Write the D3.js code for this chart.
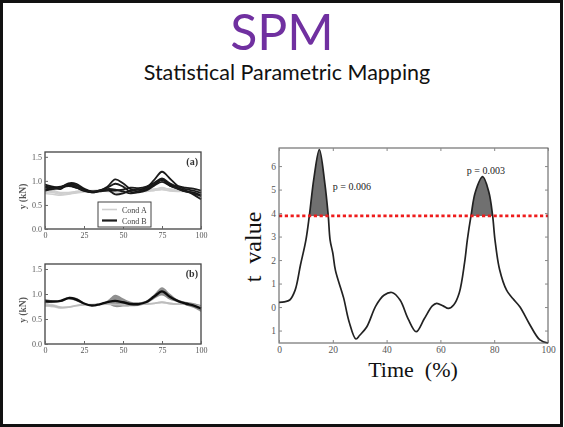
<!DOCTYPE html>
<html>
<head>
<meta charset="utf-8">
<script src="https://cdn.jsdelivr.net/npm/d3@7"></script>
<style>
  body { margin: 0; background: #fff; }
  svg { display: block; }
</style>
</head>
<body>
<div id="slide"></div>
<script>
// SPM t-statistic curve (Time %, t value)
const tTime = [0, 2, 4, 6, 8, 10, 11.3, 13, 15, 17, 18.3, 19, 20, 21, 24, 26, 28.6, 30, 32.6, 36, 39, 42, 45, 48, 51, 54, 57, 58.6, 61, 63, 65, 67, 69, 70, 71.4, 73, 75.7, 78, 79.4, 80.3, 82, 84.6, 87, 89.6, 93, 97, 100]
const tValue = [0.2, 0.22, 0.3, 0.72, 1.8, 2.85, 3.9, 5.5, 6.7, 5.3, 3.9, 2.85, 2.3, 1.55, 0.4, -0.6, -1.36, -1.2, -0.85, 0.05, 0.5, 0.62, 0.3, -0.5, -1.05, -0.5, 0.05, 0.16, 0.05, -0.06, 0.1, 0.6, 1.9, 2.85, 3.9, 4.9, 5.55, 4.9, 3.9, 2.85, 1.6, 0.72, 0.35, 0.0, -0.7, -1.4, -1.53]
const threshold = 3.88
const clusters = [{ x: 20, y: 5.0, label: "p = 0.006" }, { x: 69.8, y: 5.67, label: "p = 0.003" }]
const tTicksX = [0, 20, 40, 60, 80, 100]
const tTicksY = [-1, 0, 1, 2, 3, 4, 5, 6]
const tTickLabelsY = ["1", "0", "1", "2", "3", "4", "5", "6"]

// raw force trajectories, sampled every 5% of time
const trialTime = d3.range(0, 101, 5)
const condA = [
  [0.78, 0.76, 0.72, 0.74, 0.78, 0.80, 0.79, 0.78, 0.80, 0.81, 0.80, 0.79, 0.80, 0.80, 0.82, 0.86, 0.82, 0.80, 0.82, 0.80, 0.78],
  [0.74, 0.72, 0.70, 0.72, 0.75, 0.77, 0.78, 0.80, 0.79, 0.78, 0.77, 0.78, 0.79, 0.78, 0.80, 0.82, 0.80, 0.79, 0.80, 0.78, 0.74],
  [0.82, 0.80, 0.76, 0.76, 0.78, 0.79, 0.80, 0.81, 0.82, 0.80, 0.79, 0.80, 0.81, 0.82, 0.83, 0.84, 0.83, 0.82, 0.81, 0.79, 0.76],
  [0.76, 0.78, 0.74, 0.73, 0.76, 0.78, 0.78, 0.79, 0.78, 0.77, 0.78, 0.80, 0.80, 0.79, 0.80, 0.82, 0.79, 0.78, 0.78, 0.76, 0.72]
]
const condB = [
  [0.92, 0.88, 0.87, 0.95, 0.94, 0.84, 0.78, 0.80, 0.88, 1.03, 0.95, 0.83, 0.82, 0.86, 1.02, 1.19, 1.05, 0.90, 0.86, 0.84, 0.80],
  [0.82, 0.84, 0.88, 0.90, 0.86, 0.79, 0.76, 0.79, 0.82, 0.72, 0.74, 0.80, 0.78, 0.82, 0.92, 1.02, 0.93, 0.85, 0.80, 0.72, 0.62],
  [0.88, 0.86, 0.83, 0.93, 0.91, 0.82, 0.78, 0.80, 0.86, 0.94, 0.88, 0.77, 0.76, 0.80, 0.90, 0.98, 0.90, 0.84, 0.78, 0.76, 0.70],
  [0.80, 0.83, 0.86, 0.89, 0.86, 0.80, 0.76, 0.78, 0.80, 0.80, 0.82, 0.86, 0.85, 0.88, 0.96, 1.05, 0.95, 0.88, 0.83, 0.80, 0.75],
  [0.86, 0.84, 0.87, 0.92, 0.88, 0.80, 0.77, 0.80, 0.83, 0.82, 0.78, 0.74, 0.78, 0.84, 0.94, 1.02, 0.90, 0.84, 0.78, 0.74, 0.68]
]
const smallTicksX = [0, 25, 50, 75, 100]
const smallTicksY = [0, 0.5, 1.0, 1.5]

const width = 564, height = 427
const serif = "'Liberation Serif', 'DejaVu Serif', serif"

const svg = d3.select('#slide').append('svg')
  .attr('width', width)
  .attr('height', height)

svg.append('rect')
  .attr('x', 1.5).attr('y', 1.5)
  .attr('width', width - 4).attr('height', height - 3)
  .attr('fill', '#fff')
  .attr('stroke', '#111')
  .attr('stroke-width', 3)

// Title
svg.append('text')
  .attr('x', 282).attr('y', 50)
  .attr('text-anchor', 'middle')
  .attr('font-family', 'Lato, sans-serif')
  .attr('font-size', 50)
  .attr('fill', '#7030a0')
  .text('SPM')

svg.append('text')
  .attr('x', 287).attr('y', 80)
  .attr('text-anchor', 'middle')
  .attr('font-family', 'Lato, sans-serif')
  .attr('font-size', 21.5)
  .attr('fill', '#111')
  .text('Statistical Parametric Mapping')

// ------------------ left small panels ------------------
const defs = svg.append('defs')
defs.append('filter').attr('id', 'soft')
  .append('feGaussianBlur').attr('stdDeviation', 0.45)

const makePanel = (top, bottom, tag, drawFn, legend) => {
  const g = svg.append('g').attr('filter', 'url(#soft)')

  const x = d3.scaleLinear().domain([0, 100]).range([45, 201])
  const y = d3.scaleLinear().domain([0, 1.6]).range([bottom, top])

  drawFn(g, x, y)

  g.append('rect')
    .attr('x', 45).attr('y', top)
    .attr('width', 156).attr('height', bottom - top)
    .attr('fill', 'none')
    .attr('stroke', '#444')
    .attr('stroke-width', 1.3)

  const xAxis = d3.axisBottom(x).tickValues(smallTicksX).tickSize(-3).tickPadding(3).tickFormat(d3.format('d'))
  const yAxis = d3.axisLeft(y).tickValues(smallTicksY).tickSize(-3).tickPadding(3).tickFormat(d3.format('.1f'))

  const gx = g.append('g').attr('transform', `translate(0,${bottom})`).call(xAxis)
  const gy = g.append('g').attr('transform', 'translate(45,0)').call(yAxis)
  for (const a of [gx, gy]) {
    a.select('.domain').remove()
    a.selectAll('line').attr('stroke', '#666')
    a.selectAll('text').attr('font-family', serif).attr('font-size', 8).attr('fill', '#555')
  }

  g.append('text')
    .attr('transform', `translate(26,${(top + bottom) / 2 + 6}) rotate(-90)`)
    .attr('text-anchor', 'middle')
    .attr('font-family', serif)
    .attr('font-size', 9.5)
    .attr('font-weight', 'bold')
    .attr('fill', '#555')
    .text('y  (kN)')

  g.append('text')
    .attr('x', 198).attr('y', top + 13)
    .attr('text-anchor', 'end')
    .attr('font-family', serif)
    .attr('font-size', 10)
    .attr('font-weight', 'bold')
    .attr('fill', '#333')
    .text(tag)

  if (legend) legend(g, x, y)
}

const trialLine = (x, y) => d3.line()
  .x((d, i) => x(trialTime[i]))
  .y(d => y(d))
  .curve(d3.curveCatmullRom)

// (a) all trials
makePanel(152, 229, '(a)', (g, x, y) => {
  g.selectAll('.trialA')
    .data(condA)
    .join('path')
    .attr('class', 'trialA')
    .attr('d', trialLine(x, y))
    .attr('fill', 'none')
    .attr('stroke', '#cfcfcf')
    .attr('stroke-width', 1.5)
  g.selectAll('.trialB')
    .data(condB)
    .join('path')
    .attr('class', 'trialB')
    .attr('d', trialLine(x, y))
    .attr('fill', 'none')
    .attr('stroke', '#1a1a1a')
    .attr('stroke-width', 1.8)
}, (g, x, y) => {
  const lg = g.append('g').attr('transform', 'translate(98,202)')
  lg.append('rect')
    .attr('width', 53).attr('height', 25)
    .attr('fill', '#fff')
    .attr('stroke', '#444')
    .attr('stroke-width', 1)
  const items = [{ label: 'Cond A', color: '#cfcfcf', w: 1.6 }, { label: 'Cond B', color: '#1a1a1a', w: 2.2 }]
  items.forEach((d, i) => {
    lg.append('line')
      .attr('x1', 4).attr('x2', 19)
      .attr('y1', 7.5 + i * 11).attr('y2', 7.5 + i * 11)
      .attr('stroke', d.color)
      .attr('stroke-width', d.w)
    lg.append('text')
      .attr('x', 24).attr('y', 10.5 + i * 11)
      .attr('font-family', serif)
      .attr('font-size', 8)
      .attr('fill', '#444')
      .text(d.label)
  })
})

// (b) mean +/- SD
const summary = (trials) => trialTime.map((t, i) => {
  const v = trials.map(tr => tr[i])
  return { t: t, mean: d3.mean(v), sd: d3.deviation(v) }
})

makePanel(264, 344, '(b)', (g, x, y) => {
  const band = d3.area()
    .x(d => x(d.t))
    .y0(d => y(d.mean - d.sd))
    .y1(d => y(d.mean + d.sd))
    .curve(d3.curveCatmullRom)
  const mean = d3.line()
    .x(d => x(d.t))
    .y(d => y(d.mean))
    .curve(d3.curveCatmullRom)

  const sA = summary(condA), sB = summary(condB)
  g.append('path').attr('d', band(sA)).attr('fill', '#c8c8c8').attr('opacity', 0.8)
  g.append('path').attr('d', band(sB)).attr('fill', '#555').attr('opacity', 0.65)
  g.append('path').attr('d', mean(sA)).attr('fill', 'none').attr('stroke', '#bdbdbd').attr('stroke-width', 1.8)
  g.append('path').attr('d', mean(sB)).attr('fill', 'none').attr('stroke', '#111').attr('stroke-width', 2.4)
})

// ------------------ right SPM{t} chart ------------------
const margin = ({ top: 148, right: 16, bottom: 84, left: 279 })
const x = d3.scaleLinear()
  .domain([0, 100])
  .range([margin.left, width - margin.right])
const y = d3.scaleLinear()
  .domain([-1.53, 6.77])
  .range([height - margin.bottom, margin.top])

const tData = tTime.map((t, i) => ({ t: t, v: tValue[i] }))

defs.append('clipPath').attr('id', 'above')
  .append('rect')
  .attr('x', x(0)).attr('y', y(6.77))
  .attr('width', x(100) - x(0)).attr('height', y(threshold) - y(6.77))

const chart = svg.append('g')

chart.append('path')
  .attr('d', d3.area()
    .x(d => x(d.t))
    .y0(y(threshold))
    .y1(d => y(d.v))
    .curve(d3.curveCatmullRom)(tData))
  .attr('clip-path', 'url(#above)')
  .attr('fill', '#707070')

chart.append('path')
  .attr('d', d3.line()
    .x(d => x(d.t))
    .y(d => y(d.v))
    .curve(d3.curveCatmullRom)(tData))
  .attr('fill', 'none')
  .attr('stroke', '#222')
  .attr('stroke-width', 1.7)

chart.append('line')
  .attr('x1', x(0)).attr('x2', x(100))
  .attr('y1', y(threshold)).attr('y2', y(threshold))
  .attr('stroke', '#ee1c1c')
  .attr('stroke-width', 2.6)
  .attr('stroke-dasharray', '3.2,2.6')

// frame and ticks
chart.append('rect')
  .attr('x', x(0)).attr('y', y(6.77))
  .attr('width', x(100) - x(0)).attr('height', y(-1.53) - y(6.77))
  .attr('fill', 'none')
  .attr('stroke', '#555')
  .attr('stroke-width', 1)

const axX = chart.append('g')
  .attr('transform', `translate(0,${y(-1.53)})`)
  .call(d3.axisBottom(x).tickValues(tTicksX).tickSize(-3).tickPadding(3))
const axXTop = chart.append('g')
  .attr('transform', `translate(0,${y(6.77)})`)
  .call(d3.axisTop(x).tickValues(tTicksX).tickSize(-3).tickFormat(''))
const axY = chart.append('g')
  .attr('transform', `translate(${x(0)},0)`)
  .call(d3.axisLeft(y).tickValues(tTicksY).tickSize(-3).tickPadding(3)
    .tickFormat((d, i) => tTickLabelsY[i]))
const axYRight = chart.append('g')
  .attr('transform', `translate(${x(100)},0)`)
  .call(d3.axisRight(y).tickValues(tTicksY).tickSize(-3).tickFormat(''))

for (const a of [axX, axXTop, axY, axYRight]) {
  a.select('.domain').remove()
  a.selectAll('line').attr('stroke', '#888')
  a.selectAll('text').attr('font-family', serif).attr('font-size', 9.5).attr('fill', '#555')
}

chart.selectAll('.plabel')
  .data(clusters)
  .join('text')
  .attr('class', 'plabel')
  .attr('x', d => x(d.x))
  .attr('y', d => y(d.y))
  .attr('font-family', serif)
  .attr('font-size', 10)
  .attr('fill', '#222')
  .text(d => d.label)

chart.append('text')
  .attr('x', 413).attr('y', 377)
  .attr('text-anchor', 'middle')
  .attr('font-family', serif)
  .attr('font-size', 22)
  .attr('fill', '#111')
  .style('white-space', 'pre')
  .text('Time  (%)')

chart.append('text')
  .attr('transform', 'translate(261,247) rotate(-90)')
  .attr('text-anchor', 'middle')
  .attr('font-family', serif)
  .attr('font-size', 24)
  .attr('fill', '#111')
  .style('white-space', 'pre')
  .text('t  value')
</script>
</body>
</html>
